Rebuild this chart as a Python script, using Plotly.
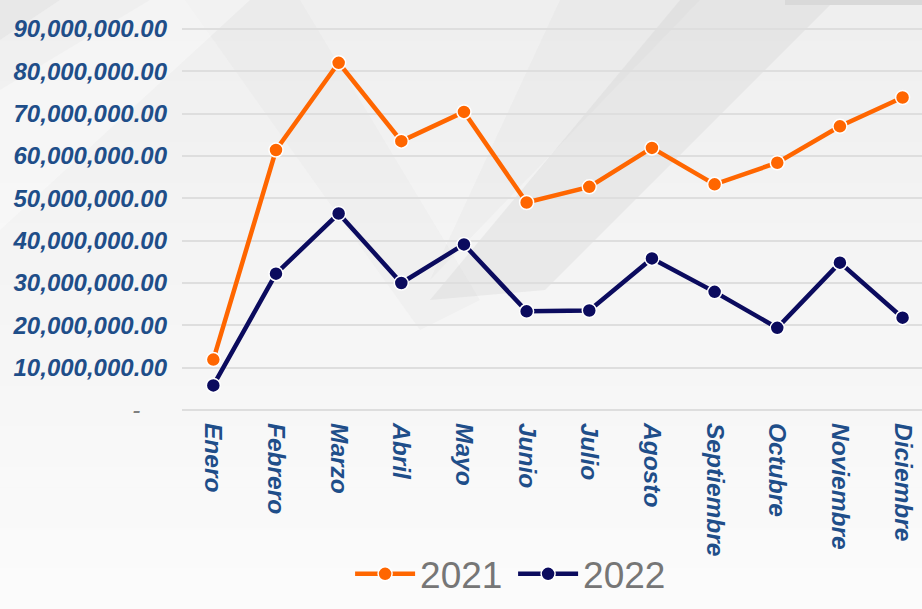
import plotly.graph_objects as go

months = ["Enero", "Febrero", "Marzo", "Abril", "Mayo", "Junio", "Julio",
          "Agosto", "Septiembre", "Octubre", "Noviembre", "Diciembre"]
sales_2021 = [11.9e6, 61.4e6, 82.0e6, 63.5e6, 70.4e6, 49.0e6, 52.7e6,
              61.9e6, 53.3e6, 58.4e6, 67.0e6, 73.8e6]
sales_2022 = [5.8e6, 32.2e6, 46.4e6, 30.0e6, 39.1e6, 23.3e6, 23.5e6,
              35.8e6, 27.9e6, 19.4e6, 34.8e6, 21.8e6]
y_ticks = [0, 10e6, 20e6, 30e6, 40e6, 50e6, 60e6, 70e6, 80e6, 90e6]
series_names = ["2021", "2022"]

W, H = 922, 609
L, R, T, B = 182, 0, 20, 199
pw, ph = W - L - R, H - T - B


def px(x):
    return (x - L) / pw


def py(y):
    return (H - B - y) / ph


tick_text = ['<span style="color:#7f7f7f;font-weight:normal">-</span>\u00a0\u00a0\u00a0\u00a0'
             if v == 0 else f"{v:,.2f}" for v in y_ticks]

fig = go.Figure()
colors = ["#FF6600", "#0B0B5E"]
for name, vals, c in zip(series_names, [sales_2021, sales_2022], colors):
    fig.add_trace(go.Scatter(
        x=months, y=vals, name=name, mode="lines+markers",
        line=dict(color=c, width=4.5),
        marker=dict(size=14, color=c, line=dict(color="white", width=1.5)),
    ))

shapes = []
# background vertical gradient (approximated by thin bands)
n = 30
for i in range(n):
    y0 = H * i / n
    y1 = H * (i + 1) / n
    t = i / (n - 1)
    g = int(round(239 + (251 - 239) * t))
    shapes.append(dict(type="rect", xref="paper", yref="paper", layer="below",
                       x0=px(0), x1=px(W), y0=py(y1 + 0.5), y1=py(y0),
                       fillcolor=f"rgb({g},{g},{g})", line=dict(width=0)))
# diagonal decorative bands
polys = [
    ([(185, 0), (300, 0), (480, 300), (420, 330)], 0.09),
    ([(680, 0), (835, 0), (545, 290), (430, 300)], 0.22),
    ([(560, 0), (700, 0), (430, 280)], 0.10),
    ([(0, 0), (60, 0), (0, 40)], 0.15),
]
for poly, op in polys:
    path = "M " + " L ".join(f"{px(x)},{py(y)}" for x, y in poly) + " Z"
    shapes.append(dict(type="path", xref="paper", yref="paper", layer="below",
                       path=path, fillcolor="#c4c4c4", opacity=op,
                       line=dict(width=0)))
white_polys = [
    [(0, 230), (0, 90), (150, 0), (250, 0)],
]
for poly in white_polys:
    path = "M " + " L ".join(f"{px(x)},{py(y)}" for x, y in poly) + " Z"
    shapes.append(dict(type="path", xref="paper", yref="paper", layer="below",
                       path=path, fillcolor="#ffffff", opacity=0.35,
                       line=dict(width=0)))
shapes.append(dict(type="rect", xref="paper", yref="paper", layer="below",
                   x0=px(785), x1=px(W), y0=py(5), y1=py(0),
                   fillcolor="#d9d9d9", line=dict(width=0)))

fig.update_layout(
    width=W, height=H,
    margin=dict(l=L, r=R, t=T, b=B, pad=0, autoexpand=False),
    paper_bgcolor="#f4f4f4",
    plot_bgcolor="rgba(0,0,0,0)",
    shapes=shapes,
    showlegend=True,
    legend=dict(
        orientation="h", xref="container", yref="container",
        x=0.5565, xanchor="center", y=0.057, yanchor="middle",
        font=dict(family="Liberation Sans, Arial, sans-serif", size=37, color="#767676"),
        bgcolor="rgba(0,0,0,0)", itemwidth=60, tracegroupgap=0,
        entrywidth=88, entrywidthmode="pixels",
    ),
    xaxis=dict(
        type="category", range=[-0.5, 11.31], automargin=False,
        showgrid=False, showline=False, zeroline=False,
        tickangle=90, ticks="", ticklabelstandoff=12,
        tickfont=dict(family="Liberation Sans, Arial, sans-serif", size=24.5,
                      color="#1F4E89", weight="bold", style="italic"),
    ),
    yaxis=dict(
        range=[0, ph / 4.234 * 1e6], automargin=False,
        tickvals=y_ticks, ticktext=tick_text,
        showgrid=True, gridcolor="#dedede", gridwidth=2,
        zeroline=True, zerolinecolor="#dedede", zerolinewidth=2,
        showline=False, ticks="", ticklabelstandoff=14,
        tickfont=dict(family="Liberation Sans, Arial, sans-serif", size=24,
                      color="#1F4E89", weight="bold", style="italic"),
    ),
)

fig.write_html("out.html", config={"displayModeBar": False},
               post_script="document.body.style.margin='0px';document.body.style.overflow='hidden';")
